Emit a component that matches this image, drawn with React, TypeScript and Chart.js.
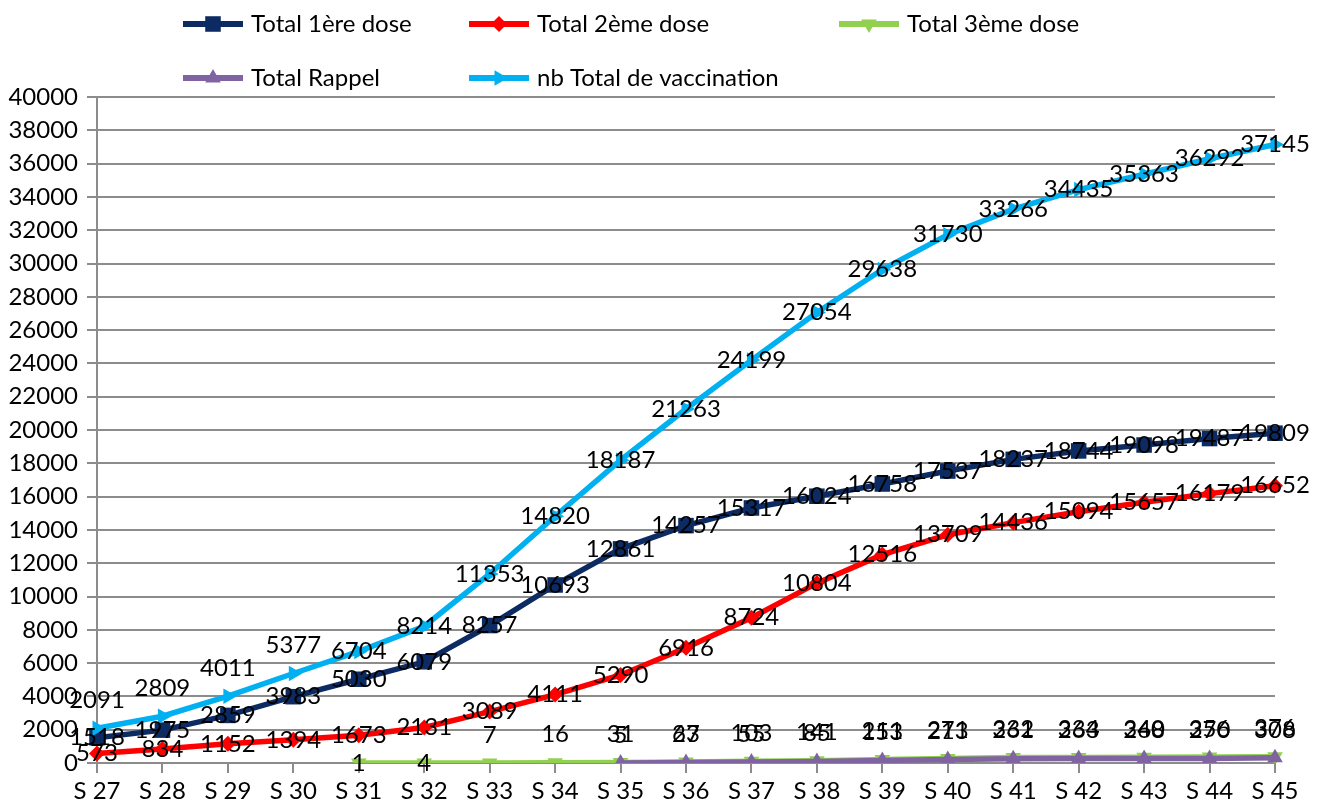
import React, { useEffect, useRef } from "react";
import { Chart, registerables } from "chart.js";

Chart.register(...registerables);

const categories = [
  "S 27", "S 28", "S 29", "S 30", "S 31", "S 32", "S 33", "S 34", "S 35", "S 36",
  "S 37", "S 38", "S 39", "S 40", "S 41", "S 42", "S 43", "S 44", "S 45",
];
const premiereDose = [1518, 1975, 2859, 3983, 5030, 6079, 8257, 10693, 12861, 14257, 15317, 16024, 16758, 17537, 18237, 18744, 19098, 19487, 19809];
const deuxiemeDose = [573, 834, 1152, 1394, 1673, 2131, 3089, 4111, 5290, 6916, 8724, 10804, 12516, 13709, 14436, 15094, 15657, 16179, 16652];
const troisiemeDose = [null, null, null, null, 1, 4, 7, 16, 31, 63, 103, 141, 211, 271, 332, 334, 340, 356, 376];
const rappel = [null, null, null, null, null, null, null, null, 5, 27, 55, 85, 153, 213, 261, 263, 268, 270, 308];
const totalVaccination = [2091, 2809, 4011, 5377, 6704, 8214, 11353, 14820, 18187, 21263, 24199, 27054, 29638, 31730, 33266, 34435, 35363, 36292, 37145];
const yTicksMax = 40000;
const yTicksStep = 2000;

const FONT = "Lato, 'Open Sans', sans-serif";

function drawMarker(ctx: CanvasRenderingContext2D, style: string, rot: number, r: number, x: number, y: number, color: string) {
  ctx.save();
  ctx.translate(x, y);
  ctx.rotate((rot * Math.PI) / 180);
  ctx.fillStyle = color;
  ctx.beginPath();
  if (style === "rect") {
    const s = r * Math.SQRT1_2;
    ctx.rect(-s, -s, 2 * s, 2 * s);
  } else if (style === "rectRot") {
    ctx.moveTo(0, -r);
    ctx.lineTo(r, 0);
    ctx.lineTo(0, r);
    ctx.lineTo(-r, 0);
    ctx.closePath();
  } else {
    ctx.moveTo(0, -r);
    ctx.lineTo((r * Math.sqrt(3)) / 2, r / 2);
    ctx.lineTo((-r * Math.sqrt(3)) / 2, r / 2);
    ctx.closePath();
  }
  ctx.fill();
  ctx.restore();
}

const labelsPlugin = {
  id: "pointLabels",
  afterDatasetsDraw(chart: any) {
    const ctx = chart.ctx;
    ctx.save();
    ctx.font = `24px ${FONT}`;
    ctx.fillStyle = "#000";
    ctx.textAlign = "center";
    ctx.textBaseline = "middle";
    chart.data.datasets.forEach((ds: any, i: number) => {
      const meta = chart.getDatasetMeta(i);
      const raised: number[] = ds.raisedLabels || [];
      meta.data.forEach((el: any, j: number) => {
        const v = ds.data[j];
        if (v === null || v === undefined) return;
        const dy = raised.includes(j) ? -28 : 0;
        ctx.fillText(String(v), el.x, el.y + dy);
      });
    });
    ctx.restore();
  },
};

const legendPlugin = {
  id: "gridLegend",
  afterDraw(chart: any) {
    const ctx = chart.ctx;
    const cols = [183, 469, 839];
    const rows = [24, 78];
    ctx.save();
    chart.data.datasets.forEach((ds: any, i: number) => {
      const x = cols[i % 3];
      const y = rows[Math.floor(i / 3)];
      ctx.strokeStyle = ds.borderColor;
      ctx.lineWidth = 6;
      ctx.beginPath();
      ctx.moveTo(x, y);
      ctx.lineTo(x + 60, y);
      ctx.stroke();
      drawMarker(ctx, ds.pointStyle, ds.pointRotation || 0, ds.pointRadius, x + 30, y, ds.borderColor);
      ctx.fillStyle = "#000";
      ctx.font = `24px ${FONT}`;
      ctx.textAlign = "left";
      ctx.textBaseline = "middle";
      ctx.fillText(ds.label, x + 68, y);
    });
    ctx.restore();
  },
};

const range = (a: number, b: number) => Array.from({ length: b - a + 1 }, (_, k) => a + k);

export default function App() {
  const ref = useRef<HTMLCanvasElement | null>(null);
  useEffect(() => {
    document.body.style.margin = "0";
    if (!ref.current) return;
    const mk = (label: string, data: any[], color: string, style: string, radius: number, rot: number, raised: number[]) => ({
      label,
      data,
      borderColor: color,
      backgroundColor: color,
      pointBackgroundColor: color,
      pointBorderColor: color,
      pointBorderWidth: 0,
      pointStyle: style,
      pointRadius: radius,
      pointRotation: rot,
      borderWidth: 5.5,
      tension: 0,
      spanGaps: false,
      raisedLabels: raised,
    });
    const datasets: any[] = [
      mk("Total 1ère dose", premiereDose, "#0d2b63", "rect", 11, 0, []),
      mk("Total 2ème dose", deuxiemeDose, "#ff0000", "rectRot", 8, 0, []),
      mk("Total 3ème dose", troisiemeDose, "#92d050", "triangle", 9, 180, range(6, 18)),
      mk("Total Rappel", rappel, "#8064a2", "triangle", 9, 0, range(8, 18)),
      mk("nb Total de vaccination", totalVaccination, "#00b0f0", "triangle", 9, 90, range(0, 3)),
    ];
    datasets.forEach((d, i) => (d.order = 10 - i));
    const chart = new Chart(ref.current, {
      type: "line",
      data: { labels: categories, datasets },
      options: {
        animation: false,
        responsive: false,
        layout: { padding: { top: 97, right: 49, left: 0, bottom: 0 } },
        plugins: { legend: { display: false }, tooltip: { enabled: false } },
        scales: {
          x: {
            offset: false,
            grid: { drawOnChartArea: false, drawTicks: true, tickLength: 10, color: "#8c8c8c", lineWidth: 2 },
            border: { color: "#8c8c8c", width: 2 },
            ticks: { color: "#000", font: { family: FONT, size: 24 }, padding: 4, maxRotation: 0, autoSkip: false },
            afterFit(scale: any) {
              scale.height = 42;
            },
          },
          y: {
            min: 0,
            max: yTicksMax,
            grid: { color: "#8c8c8c", lineWidth: 2, tickLength: 10 },
            border: { color: "#8c8c8c", width: 2 },
            ticks: {
              stepSize: yTicksStep,
              color: "#000",
              font: { family: FONT, size: 24 },
              padding: 9,
              callback: (v: any) => String(v),
            },
            afterFit(scale: any) {
              scale.width = 97;
            },
          },
        },
      },
      plugins: [labelsPlugin, legendPlugin],
    });
    return () => chart.destroy();
  }, []);
  return (
    <div style={{ position: "absolute", left: 0, top: 0, width: 1324, height: 805 }}>
      <canvas ref={ref} width={1324} height={805} style={{ width: 1324, height: 805 }} />
    </div>
  );
}
